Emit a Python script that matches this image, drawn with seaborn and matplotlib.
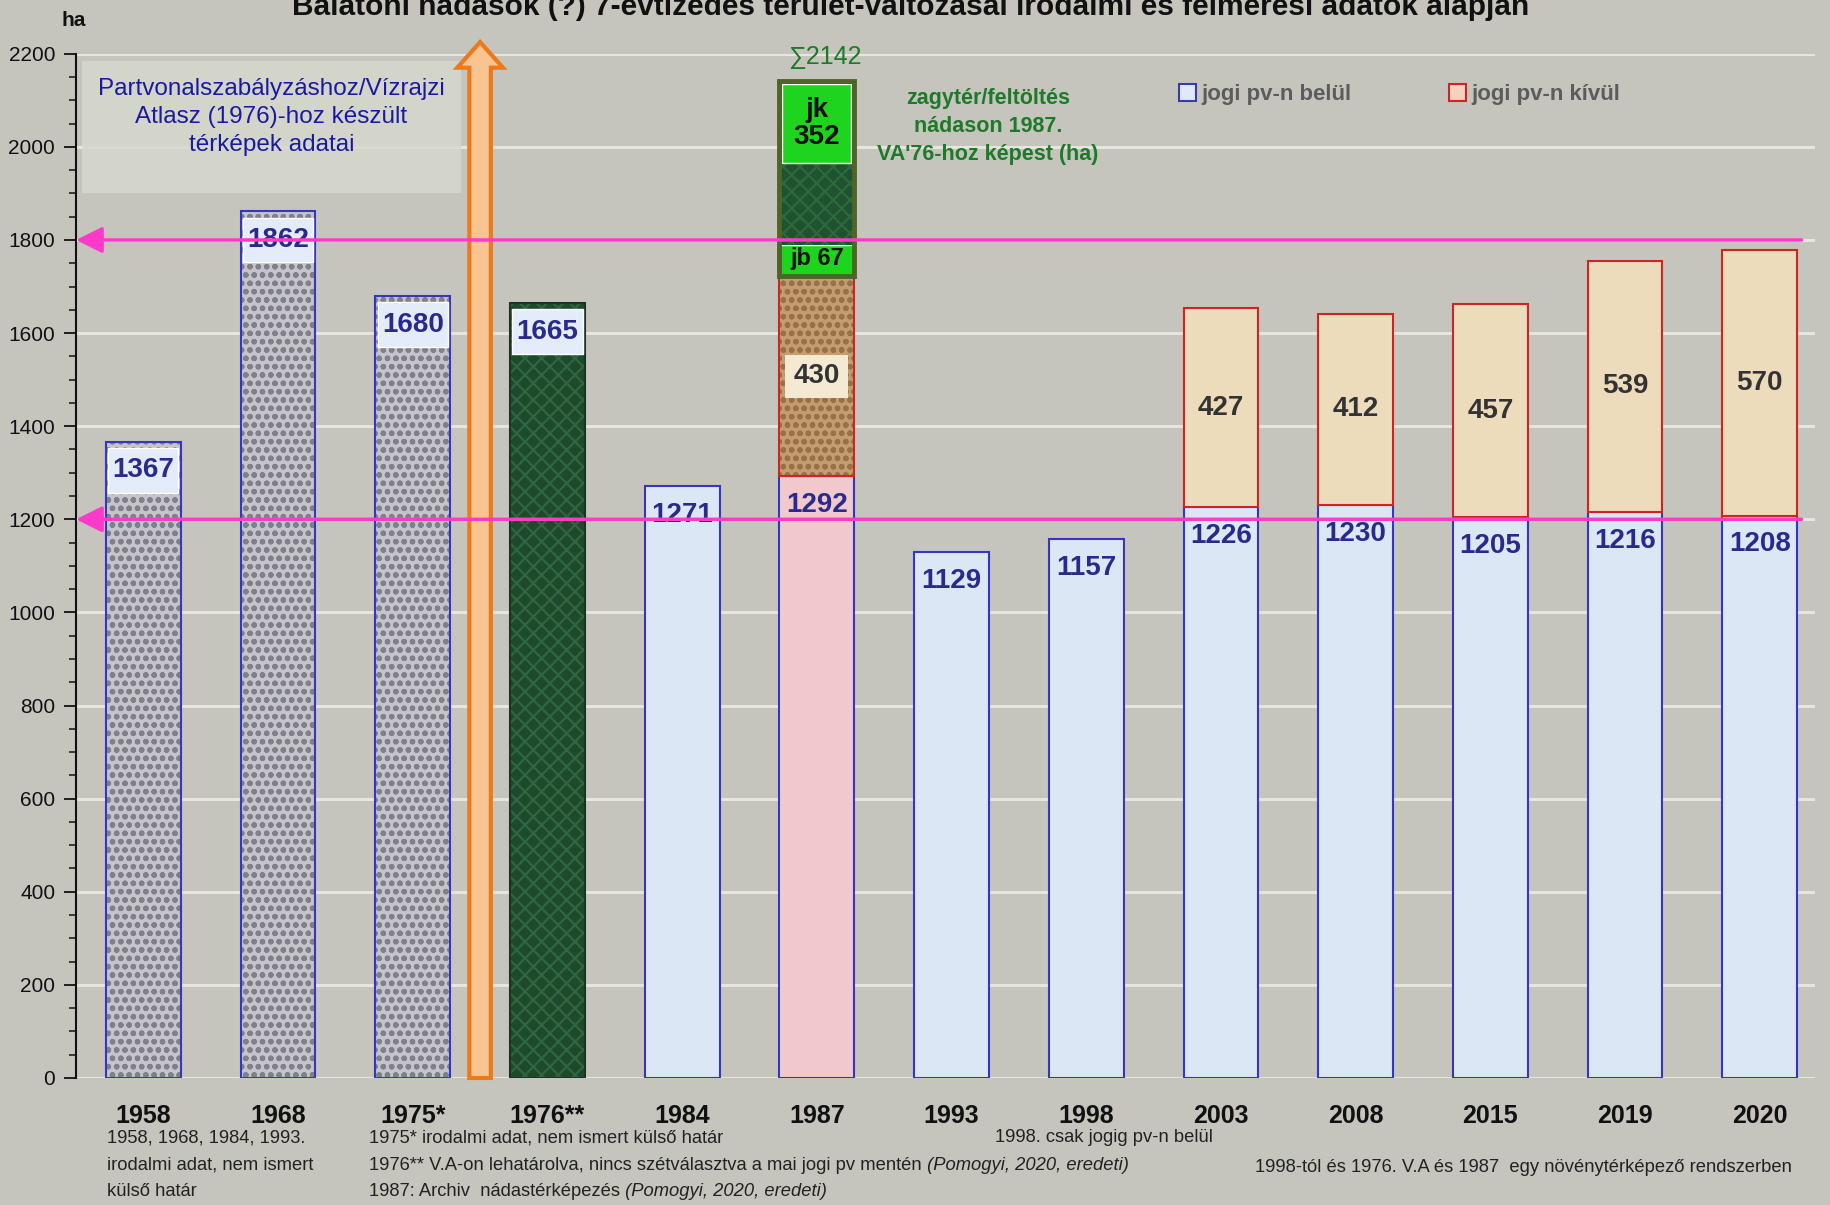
import numpy as np
import pandas as pd
import matplotlib.pyplot as plt
import matplotlib.patches as mpatches
import seaborn as sns

# Data (ha)
years = ['1958', '1968', '1975*', '1976**', '1984', '1987', '1993', '1998',
         '2003', '2008', '2015', '2019', '2020']
inside = [1367, 1862, 1680, 1665, 1271, 1292, 1129, 1157, 1226, 1230, 1205, 1216, 1208]  # jogi pv-n belül
outside = [0, 0, 0, 0, 0, 430, 0, 0, 427, 412, 457, 539, 570]  # jogi pv-n kívül
# bar look: granite = old literature data, forest = 1976 V.A., plain = mapped data
kinds = ['granite', 'granite', 'granite', 'forest', 'plain', 'pink', 'plain', 'plain',
         'plain', 'plain', 'plain', 'plain', 'plain']
# 1987 zagytér/feltöltés block on top of the 1987 bar
fill_year = '1987'
fill_jb = 67
fill_jk = 352
fill_sum = 2142
ref_levels = [1800, 1200]

notes_left = ['1958, 1968, 1984, 1993.', 'irodalmi adat, nem ismert', 'külső határ']
note_1975 = '1975* irodalmi adat, nem ismert külső határ'
note_1976 = ('1976** V.A-on lehatárolva, nincs szétválasztva a mai jogi pv mentén',
             ' (Pomogyi, 2020, eredeti)')
note_1987 = ('1987: Archiv  nádastérképezés', ' (Pomogyi, 2020, eredeti)')
note_1998 = '1998. csak jogig pv-n belül'
note_right = '1998-tól és 1976. V.A és 1987  egy növénytérképező rendszerben'
title = 'Balatoni nádasok (?) 7-évtizedes terület-változásai irodalmi és felmérési adatok alapján'

bg = '#c5c5bd'
blue_edge = '#3636c4'
light_blue = '#dce7f6'
red_edge = '#d02424'
beige = '#ecdcbb'
label_blue = '#2a2a8c'
green_txt = '#1e7a28'

sns.set_style('white', {'axes.facecolor': bg, 'figure.facecolor': bg})
plt.rcParams['font.family'] = ['Liberation Sans', 'DejaVu Sans']
plt.rcParams['hatch.linewidth'] = 1.6

W, H = 1831, 1205
fig = plt.figure(figsize=(W / 100, H / 100), dpi=100)
ax = fig.add_axes([76 / W, 0.1054, (1815 - 76) / W, 0.85])
bar_w = 0.555

df = pd.DataFrame({'year': years, 'inside': inside, 'outside': outside, 'kind': kinds})
sns.barplot(data=df, x='year', y='inside', order=years, width=bar_w, color=light_blue,
            saturation=1, ax=ax, zorder=2, edgecolor=blue_edge, linewidth=1.5)
patches = sorted(ax.patches, key=lambda p: p.get_x())

for i, (p, kind) in enumerate(zip(patches, kinds)):
    if kind == 'granite':
        p.set_facecolor('#c4c4ca')
        p.set_hatch('oo')
        p.set_edgecolor('#80808a')
        p.set_linewidth(0)
        ax.bar(i, inside[i], width=bar_w, fill=False, edgecolor=blue_edge, lw=1.5, zorder=3)
    elif kind == 'forest':
        p.set_facecolor('#1e4a2c')
        p.set_hatch('xx')
        p.set_edgecolor('#2f6640')
        p.set_linewidth(0)
        ax.bar(i, inside[i], width=bar_w, fill=False, edgecolor='#1b3326', lw=1.5, zorder=3)
    elif kind == 'pink':
        p.set_facecolor('#f1c9cd')

# label boxes on textured bars and lower values
for i, v in enumerate(inside):
    if kinds[i] in ('granite', 'forest'):
        ax.bar(i, 96, bottom=v - 110, width=bar_w * 0.94, color='#e3ecf8', zorder=3)
    ax.text(i, v - 62, str(v), ha='center', va='center', fontsize=20, fontweight='bold',
            color=label_blue, zorder=5)

# outside (kívül) segments
for i, v in enumerate(outside):
    if v == 0:
        continue
    if years[i] == fill_year:
        ax.bar(i, v, bottom=inside[i], width=bar_w, color='#c39c70', hatch='oo',
               edgecolor='#9a7048', lw=0, zorder=2)
        ax.bar(i, v, bottom=inside[i], width=bar_w, fill=False, edgecolor=red_edge, lw=1.5, zorder=3)
        ax.text(i, inside[i] + v / 2, str(v), ha='center', va='center', fontsize=20,
                fontweight='bold', color='#333333', zorder=5,
                bbox=dict(boxstyle='square,pad=0.3', fc='#f4ead4', ec='none'))
    else:
        ax.bar(i, v, bottom=inside[i], width=bar_w, color=beige, edgecolor=red_edge,
               lw=1.5, zorder=2)
        ax.text(i, inside[i] + v / 2, str(v), ha='center', va='center', fontsize=20,
                fontweight='bold', color='#333333', zorder=5)

# 1987 zagytér/feltöltés block
fi = years.index(fill_year)
base = inside[fi] + outside[fi]
ax.bar(fi, fill_jb, bottom=base, width=bar_w, color='#1fd41f', zorder=3)
ax.bar(fi, fill_jk, bottom=base + fill_jb, width=bar_w, color='#1f5230', hatch='xx',
       edgecolor='#2c6a3c', lw=0, zorder=3)
ax.bar(fi, fill_jk * 0.48, bottom=base + fill_jb + fill_jk * 0.5, width=bar_w * 0.92,
       color='#1fd41f', zorder=3)
ax.bar(fi, fill_jb + fill_jk, bottom=base, width=bar_w, fill=False, edgecolor='#4e6428',
       lw=3.5, zorder=4)
ax.text(fi, base + fill_jb / 2 + 5, f'jb {fill_jb}', ha='center', va='center', fontsize=17,
        fontweight='bold', color='#111111', zorder=5)
ax.text(fi, base + fill_jb + fill_jk * 0.74, f'jk\n{fill_jk}', ha='center', va='center',
        fontsize=20, fontweight='bold', color='#111111', linespacing=1.05, zorder=5)
ax.text(fi + 0.06, fill_sum + 50, f'∑{fill_sum}', ha='center', va='center', fontsize=18,
        color=green_txt, zorder=5, clip_on=False)
ax.text(6.27, 2044, 'zagytér/feltöltés\nnádason 1987.\nVA\'76-hoz képest (ha)',
        ha='center', va='center', fontsize=15.5, fontweight='bold', color=green_txt,
        linespacing=1.45)

# info box top-left
ax.add_patch(mpatches.Rectangle((-0.457, 1901), 2.817, 284, facecolor='#d7d9cd', alpha=0.85,
                                edgecolor='none', zorder=1))
ax.text(0.95, 2064, 'Partvonalszabályzáshoz/Vízrajzi\nAtlasz (1976)-hoz készült\ntérképek adatai',
        ha='center', va='center', fontsize=17.5, color='#1a1aa0', linespacing=1.35, zorder=5)

# orange arrow
ax.add_patch(mpatches.FancyArrow(2.5, 0, 0, 2225, width=0.16, head_width=0.34, head_length=55,
                                 length_includes_head=True, facecolor='#f9c490',
                                 edgecolor='#ec7a1c', lw=3, zorder=4, clip_on=False))

# pink reference lines
for lev in ref_levels:
    ax.annotate('', xy=(-0.5, lev), xytext=(12.31, lev),
                arrowprops=dict(arrowstyle='-|>,head_length=0.8,head_width=0.4', color='#ff3acb',
                                lw=2.5, shrinkA=0, shrinkB=0, mutation_scale=20), zorder=6)

# legend
handles = [mpatches.Patch(facecolor='#dfe9fa', edgecolor='#3a3ab0', lw=1.5, label='jogi pv-n belül'),
           mpatches.Patch(facecolor='#f6d2bd', edgecolor=red_edge, lw=1.5, label='jogi pv-n kívül')]
leg = ax.legend(handles=handles, loc='center left', bbox_to_anchor=(0.628, 0.96), ncol=2,
                frameon=False, handlelength=0.75, handleheight=0.75, handletextpad=0.25,
                columnspacing=4.4, borderpad=0, prop={'size': 16, 'weight': 'bold'})
for t in leg.get_texts():
    t.set_color('#5c5c5c')

# axes styling
ax.set_ylim(0, 2200)
ax.set_xlim(-0.5, 12.41)
ax.set_yticks(np.arange(0, 2201, 200))
ax.set_yticks(np.arange(0, 2201, 50), minor=True)
ax.yaxis.grid(True, color='#e6e6de', lw=2.2)
ax.set_axisbelow(True)
ax.tick_params(axis='y', which='major', direction='out', length=9, width=1.3, colors='#111111',
               labelsize=15, pad=6, left=True)
ax.tick_params(axis='y', which='minor', direction='out', length=5, width=1.1, colors='#111111', left=True)
ax.set_xticks(range(len(years)))
ax.set_xticklabels(years, fontsize=18, fontweight='bold', color='#111111')
ax.tick_params(axis='x', length=0, pad=19)
ax.set_xlabel('')
ax.set_ylabel('')
for s in ['top', 'right', 'bottom']:
    ax.spines[s].set_visible(False)
ax.spines['left'].set_color('#111111')
ax.spines['left'].set_linewidth(1.5)

# texts outside the axes (title runs off the top edge as in the original)
fig.text(911 / W, 1 - 15 / H, title, ha='center', va='baseline', fontsize=21.5, fontweight='bold',
         color='#111111')
fig.text(74 / W, 1 - 21 / H, 'ha', ha='center', va='center', fontsize=15, fontweight='bold',
         color='#111111')

note_kw = dict(fontsize=13.2, color='#222222', va='center', ha='left')
for k, line in enumerate(notes_left):
    fig.text(107 / W, 1 - (1138 + 27 * k) / H, line, **note_kw)
fig.text(369 / W, 1 - 1138 / H, note_1975, **note_kw)
t76 = fig.text(369 / W, 1 - 1165 / H, note_1976[0], **note_kw)
ax.annotate(note_1976[1], xy=(1, 0), xycoords=t76, ha='left', va='bottom', fontsize=13.2,
            color='#222222', fontstyle='italic', annotation_clip=False)
t87 = fig.text(369 / W, 1 - 1192 / H, note_1987[0], **note_kw)
ax.annotate(note_1987[1], xy=(1, 0), xycoords=t87, ha='left', va='bottom', fontsize=13.2,
            color='#222222', fontstyle='italic', annotation_clip=False)
fig.text(995 / W, 1 - 1138 / H, note_1998, **note_kw)
fig.text(1255 / W, 1 - 1167 / H, note_right, **note_kw)

fig.savefig('out.png', dpi=100, facecolor=bg)
